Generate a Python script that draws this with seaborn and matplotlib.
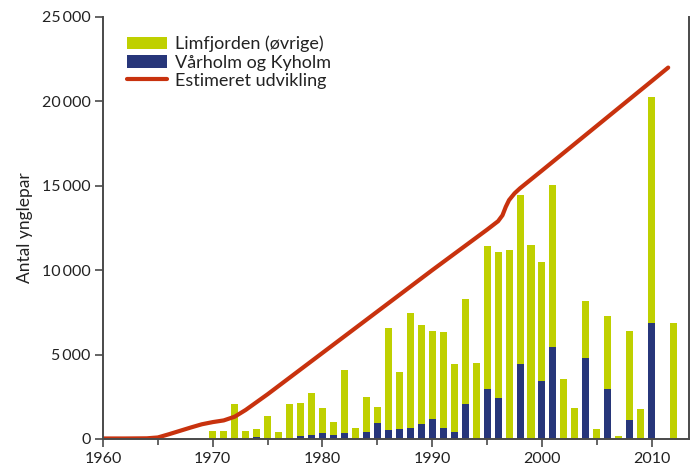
import matplotlib
matplotlib.use("Agg")
import matplotlib.pyplot as plt
import matplotlib.ticker as mticker
from matplotlib.patches import Patch
from matplotlib.lines import Line2D
import seaborn as sns
import pandas as pd

# ---- data ----
years = list(range(1970, 2013))
limfjorden_ovrige = [500, 500, 2050, 500, 480, 1350, 360, 1990, 1930, 2460,
                     1465, 750, 3715, 650, 2055, 930, 6025, 3355, 6790, 5845,
                     5200, 5670, 4005, 6220, 4500, 8470, 8650, 11200, 10010, 11490,
                     7050, 9600, 3550, 1840, 3370, 590, 4330, 180, 5270, 1780,
                     13390, 0, 6870]
vaarholm_kyholm = [0, 0, 0, 0, 120, 30, 50, 80, 200, 260,
                   375, 260, 375, 0, 435, 970, 555, 615, 670, 905,
                   1200, 670, 435, 2070, 0, 2960, 2430, 0, 4440, 0,
                   3440, 5450, 0, 0, 4800, 0, 2960, 0, 1130, 0,
                   6870, 0, 0]

est_years = [1960, 1962, 1964, 1965, 1966, 1967, 1968, 1969, 1970, 1971, 1972,
             1973, 1975, 1980, 1985, 1990, 1995, 1996, 1996.4, 1996.7,
             1997, 1997.5, 1998, 2000, 2005, 2010, 2011.5]
est_values = [30, 30, 40, 90, 280, 480, 680, 870, 1000, 1100, 1320,
              1720, 2650, 5100, 7550, 10000, 12400, 12900, 13250, 13750,
              14150, 14550, 14850, 15900, 18550, 21200, 22000]

legend_labels = ["Limfjorden (øvrige)", "Vårholm og Kyholm", "Estimeret udvikling"]
y_ticks = [0, 5000, 10000, 15000, 20000, 25000]
x_ticks = [1960, 1970, 1980, 1990, 2000, 2010]

green = "#BFD000"
blue = "#27367A"
red = "#C8320E"

sns.set_style("ticks")
plt.rcParams["font.family"] = ["Lato", "DejaVu Sans"]

fig = plt.figure(figsize=(6.96, 4.70), dpi=100)
ax = fig.add_axes([0.148, 0.066, 0.842, 0.898])

totals = [g + b for g, b in zip(limfjorden_ovrige, vaarholm_kyholm)]
df = pd.DataFrame({"year": years, "total": totals, "blue": vaarholm_kyholm})

sns.barplot(data=df, x="year", y="total", native_scale=True, color=green,
            width=0.64, saturation=1, ax=ax, linewidth=0, errorbar=None)
sns.barplot(data=df, x="year", y="blue", native_scale=True, color=blue,
            width=0.64, saturation=1, ax=ax, linewidth=0, errorbar=None)

edf = pd.DataFrame({"year": est_years, "val": est_values})
sns.lineplot(data=edf, x="year", y="val", sort=False, color=red, linewidth=3.0,
             ax=ax, solid_capstyle="round", solid_joinstyle="round")

ax.set_xlim(1960, 2013.4)
ax.set_ylim(0, 25000)
ax.set_xticks(x_ticks)
ax.set_xticklabels([str(x) for x in x_ticks])
ax.xaxis.set_minor_locator(mticker.FixedLocator([1965, 1975, 1985, 1995, 2005]))
ax.set_yticks(y_ticks)
ax.set_yticklabels([f"{v:,}".replace(",", "\u2009") for v in y_ticks])

ax.set_xlabel("")
ax.set_ylabel("Antal ynglepar", fontsize=12.5, color="#222222", labelpad=6)

for s in ["left", "bottom", "right"]:
    ax.spines[s].set_visible(True)
    ax.spines[s].set_color("#4a4a4a")
    ax.spines[s].set_linewidth(1.4)
ax.spines["top"].set_visible(False)

ax.tick_params(axis="both", which="major", length=6, width=1.2, color="#4a4a4a",
               labelsize=11.5, labelcolor="#222222", direction="out")
ax.tick_params(axis="x", which="minor", length=4, width=1.2, color="#4a4a4a", direction="out")
ax.tick_params(axis="y", pad=3)

handles = [Patch(facecolor=green, edgecolor="none"),
           Patch(facecolor=blue, edgecolor="none"),
           Line2D([0], [0], color=red, linewidth=3.0, solid_capstyle="round")]
leg = ax.legend(handles, legend_labels, loc="upper left", frameon=False,
                fontsize=13, bbox_to_anchor=(0.02, 0.985),
                handlelength=2.2, handleheight=0.7, handletextpad=0.45,
                labelspacing=0.12, borderaxespad=0.3)
for t in leg.get_texts():
    t.set_color("#222222")

fig.savefig("out.png", dpi=100)
